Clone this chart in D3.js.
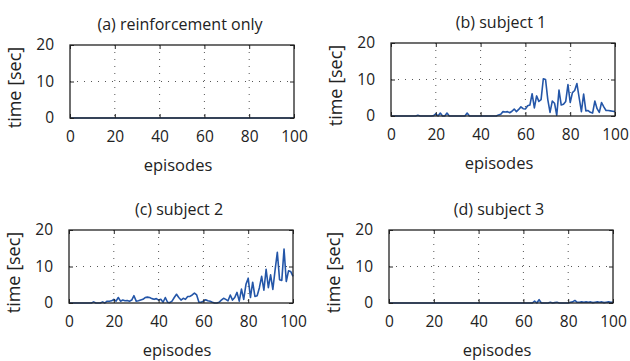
<!DOCTYPE html>
<html>
<head>
<meta charset="utf-8">
<script src="https://cdn.jsdelivr.net/npm/d3@7"></script>
<style>
  body { margin: 0; background: #fff; }
  text { font-family: 'Open Sans', 'Noto Sans', sans-serif; fill: #222; }
</style>
</head>
<body>
<script>
// episode index 0..100
const episodes = d3.range(0, 101)

const titles = ['(a) reinforcement only', '(b) subject 1', '(c) subject 2', '(d) subject 3']
const xTicks = [0, 20, 40, 60, 80, 100]
const yTicks = [0, 10, 20]

const seriesA = episodes.map(() => 0)

const seriesB = [
  0, 0, 0, 0, 0, 0, 0, 0, 0, 0,
  0, 0, 0.2, 0, 0, 0, 0, 0, 0, 0.1,
  0.6, 0, 0.8, 0, 0, 0.8, 0, 0, 0, 0,
  0, 0, 0, 0, 0.8, 0, 0, 0, 0, 0,
  0, 0, 0, 0, 0, 0, 0, 0, 0.3, 0.5,
  1.2, 1.1, 1.2, 0.9, 1.3, 1.9, 1.2, 1.8, 2.5, 2.0,
  1.9, 2.8, 3.0, 6.1, 2.2, 5.5, 4.0, 4.5, 10.2, 10.0,
  4.5, 1.0, 4.1, 3.5, 0.2, 7.1, 3.0, 3.2, 4.0, 8.6,
  3.7, 6.4, 7.0, 8.9, 5.0, 1.2, 6.0, 1.4, 1.5, 1.0,
  0.8, 4.1, 2.0, 1.0, 3.7, 2.5, 1.5, 1.5, 1.4, 1.3,
  1.2
]

const seriesC = [
  0, 0, 0, 0, 0, 0, 0, 0, 0, 0,
  0, 0.3, 0, 0, 0, 0.3, 0, 0.5, 0.5, 0.6,
  1.0, 0.5, 1.5, 0.5, 0.8, 0.6, 0.7, 0.5, 0.8, 2.0,
  0.5, 0.6, 0.8, 1.0, 1.5, 1.6, 1.5, 1.2, 1.0, 1.2,
  0.8, 1.0, 0.2, 1.5, 0.2, 0.1, 0.5, 1.5, 2.4, 1.5,
  0.8, 1.3, 1.0, 1.8, 1.8, 2.2, 2.7, 2.2, 0.2, 0.2,
  0.5, 0.9, 0.6, 0.5, 0.2, 0, 0, 0.2, 0.8, 1.3,
  1.0, 0.6, 2.2, 0.8, 1.5, 2.9, 0.5, 3.8, 1.0, 5.1,
  6.8, 1.5, 5.7, 1.8, 2.0, 4.2, 7.3, 3.5, 9.2, 4.2,
  7.7, 3.7, 9.0, 13.9, 6.4, 6.2, 14.8, 5.9, 8.8, 8.6,
  7.3
]

const seriesD = [
  0, 0, 0, 0, 0, 0, 0, 0, 0, 0,
  0, 0, 0, 0, 0, 0, 0, 0, 0, 0,
  0, 0, 0, 0, 0, 0, 0, 0, 0, 0,
  0, 0, 0, 0, 0, 0, 0, 0, 0, 0,
  0, 0, 0, 0, 0, 0, 0, 0, 0, 0,
  0, 0, 0, 0, 0, 0, 0, 0, 0, 0,
  0, 0, 0, 0, 0, 0.5, 0, 0.9, 0, 0,
  0, 0, 0.2, 0, 0.1, 0.2, 0, 0, 0, 0,
  0, 0.2, 0.3, 0.7, 0.2, 0.2, 0.3, 0.2, 0.3, 0.2,
  0.3, 0.1, 0.2, 0.3, 0.2, 0.3, 0.1, 0.2, 0.3, 0.2,
  0.2
]

const allSeries = [seriesA, seriesB, seriesC, seriesD]

const width = 630
const height = 361
const plotW = 224
const plotH = 73
// top-left corner of each plot frame
const origins = [[70, 45], [391, 43], [69, 230], [389, 230]]

const svg = d3.select('body').append('svg')
  .attr('width', width)
  .attr('height', height)

const x = d3.scaleLinear().domain([0, 100]).range([0, plotW])
const y = d3.scaleLinear().domain([0, 20]).range([plotH, 0])

allSeries.forEach((values, i) => {
  const [ox, oy] = origins[i]
  const g = svg.append('g').attr('transform', `translate(${ox}, ${oy})`)

  // Dotted grid
  g.selectAll('.gx')
    .data(xTicks.slice(1, -1))
    .join('line')
    .attr('x1', d => x(d)).attr('x2', d => x(d))
    .attr('y1', 0).attr('y2', plotH)
    .attr('stroke', '#555')
    .attr('stroke-width', 1)
    .attr('stroke-dasharray', '1,6')
  g.selectAll('.gy')
    .data(yTicks.slice(1, -1))
    .join('line')
    .attr('x1', 0).attr('x2', plotW)
    .attr('y1', d => y(d)).attr('y2', d => y(d))
    .attr('stroke', '#555')
    .attr('stroke-width', 1)
    .attr('stroke-dasharray', '1,6')

  // Line
  const line = d3.line()
    .x((_, j) => x(episodes[j]))
    .y(d => y(d))
  g.append('path')
    .datum(values)
    .attr('d', line)
    .attr('fill', 'none')
    .attr('stroke', '#2456a8')
    .attr('stroke-width', 1.6)
    .attr('stroke-linejoin', 'round')

  // Axes with inward ticks
  const xAxis = g.append('g')
    .attr('transform', `translate(0, ${plotH})`)
    .call(d3.axisBottom(x).tickValues(xTicks).tickSizeInner(-4).tickSizeOuter(0).tickPadding(12))
  const yAxis = g.append('g')
    .call(d3.axisLeft(y).tickValues(yTicks).tickSizeInner(-4).tickSizeOuter(0).tickPadding(16))
  g.append('g')
    .call(d3.axisTop(x).tickValues(xTicks).tickSizeInner(-4).tickSizeOuter(0).tickFormat(''))
  g.append('g')
    .attr('transform', `translate(${plotW}, 0)`)
    .call(d3.axisRight(y).tickValues(yTicks).tickSizeInner(-4).tickSizeOuter(0).tickFormat(''))

  xAxis.selectAll('text').attr('font-size', 15.5).attr('y', 19).attr('dy', '0.35em')
  yAxis.selectAll('text').attr('font-size', 15.5)
  g.selectAll('.domain').remove()
  g.selectAll('.tick line').attr('stroke', '#222').attr('stroke-width', 1)

  // Frame
  g.append('rect')
    .attr('x', 0).attr('y', 0)
    .attr('width', plotW).attr('height', plotH)
    .attr('fill', 'none')
    .attr('stroke', '#222')
    .attr('stroke-width', 1.3)

  // Title
  g.append('text')
    .attr('x', plotW / 2 - 2)
    .attr('y', -21)
    .attr('dy', '0.35em')
    .attr('text-anchor', 'middle')
    .attr('font-size', 16)
    .text(titles[i])

  // Axis labels
  g.append('text')
    .attr('x', plotW / 2 - 4)
    .attr('y', plotH + 47.5)
    .attr('dy', '0.35em')
    .attr('text-anchor', 'middle')
    .attr('font-size', 16.5)
    .text('episodes')

  g.append('text')
    .attr('transform', 'rotate(-90)')
    .attr('x', -plotH / 2 - 6)
    .attr('y', -55)
    .attr('dy', '0.35em')
    .attr('text-anchor', 'middle')
    .attr('font-size', 18)
    .text('time [sec]')
})
</script>
</body>
</html>
